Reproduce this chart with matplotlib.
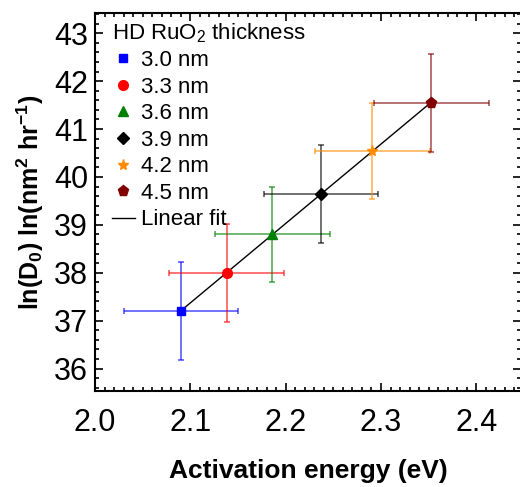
import numpy as np
import matplotlib
matplotlib.use("Agg")
import matplotlib.pyplot as plt
from matplotlib.ticker import MultipleLocator

plt.rcParams['font.family'] = ['Liberation Sans', 'DejaVu Sans']
plt.rcParams['mathtext.fontset'] = 'custom'
plt.rcParams['mathtext.rm'] = 'Liberation Sans'
plt.rcParams['mathtext.bf'] = 'Liberation Sans:bold'

# data
labels = ['3.0 nm', '3.3 nm', '3.6 nm', '3.9 nm', '4.2 nm', '4.5 nm']
energy = [2.090, 2.138, 2.186, 2.237, 2.291, 2.353]
ln_d0 = [37.20, 38.00, 38.80, 39.65, 40.55, 41.55]
energy_err = [0.06, 0.06, 0.06, 0.06, 0.06, 0.06]
ln_d0_err = [1.03, 1.02, 1.0, 1.02, 1.0, 1.02]
colors = ['#0000ff', '#ff0000', '#008000', '#000000', '#ff8c00', '#800000']
markers = ['s', 'o', '^', 'D', '*', 'p']
msizes = [6, 7, 7, 6.5, 8, 8]

fig = plt.figure(figsize=(5.2, 4.87), dpi=100)
ax = fig.add_axes([0.183, 0.197, 0.819, 0.776])

# linear fit
coef = np.polyfit(energy, ln_d0, 1)
xf = np.array([energy[0], energy[-1]])
ax.plot(xf, np.polyval(coef, xf), color='black', lw=1.0, zorder=2, label='Linear fit')

handles = []
for i in range(len(labels)):
    ax.errorbar(energy[i], ln_d0[i], xerr=energy_err[i], yerr=ln_d0_err[i],
                fmt='none', ecolor=colors[i], alpha=0.65, elinewidth=1.2,
                capsize=2, capthick=1.2, zorder=1)
    h, = ax.plot(energy[i], ln_d0[i], marker=markers[i], color=colors[i],
                 ms=msizes[i], ls='none', label=labels[i], zorder=3)
    handles.append(h)
handles.append(ax.lines[0])

ax.set_xlim(2.0, 2.447)
ax.set_ylim(35.53, 43.42)
ax.xaxis.set_major_locator(MultipleLocator(0.1))
ax.xaxis.set_minor_locator(MultipleLocator(0.01))
ax.yaxis.set_major_locator(MultipleLocator(1))
ax.yaxis.set_minor_locator(MultipleLocator(0.2))
ax.tick_params(which='both', direction='in', top=True, right=True, width=1.2)
ax.tick_params(which='major', length=6, labelsize=22)
ax.tick_params(which='minor', length=3)
ax.tick_params(axis='x', which='major', pad=12)
ax.tick_params(axis='y', which='major', pad=5)
for s in ax.spines.values():
    s.set_linewidth(1.5)

ax.set_xlabel('Activation energy (eV)', fontsize=19, fontweight='bold', labelpad=15)
ax.set_ylabel(r'ln(D$_\mathbf{0}$) ln(nm$^\mathbf{2}$ hr$^\mathbf{-1}$)',
              fontsize=18, fontweight='bold', labelpad=6)

leg = ax.legend(handles=handles, title=r'HD RuO$_2$ thickness', loc='upper left',
                bbox_to_anchor=(0.022, 1.0), frameon=False, fontsize=16,
                title_fontsize=16, handlelength=1.0, handletextpad=0.3,
                labelspacing=0.25, borderaxespad=0.15, borderpad=0.2,
                alignment='left')

fig.savefig('out.png', dpi=100)
